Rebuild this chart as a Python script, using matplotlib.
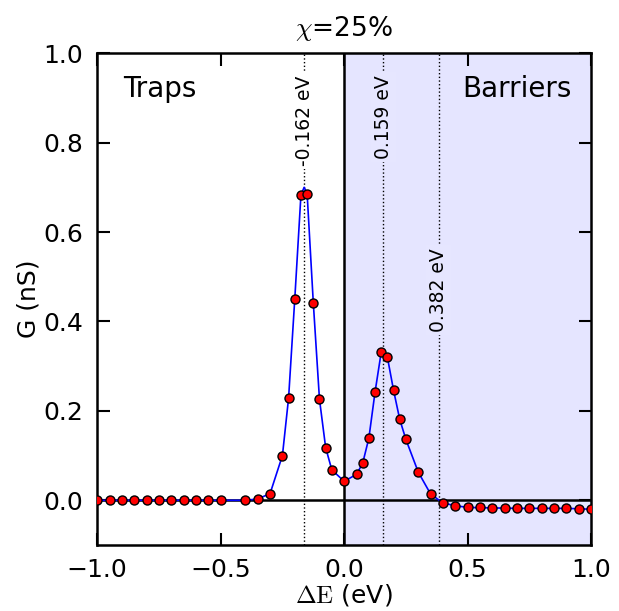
import matplotlib
matplotlib.use("Agg")
import matplotlib.pyplot as plt

plt.rcParams['mathtext.fontset'] = 'cm'

# Data
energy = [-1.0, -0.95, -0.9, -0.85, -0.8, -0.75, -0.7, -0.65, -0.6, -0.55, -0.5,
          -0.4, -0.35, -0.3, -0.25, -0.225, -0.2, -0.175, -0.15, -0.125, -0.1,
          -0.075, -0.05, 0.0, 0.05, 0.075, 0.1, 0.125, 0.15, 0.175, 0.2, 0.225,
          0.25, 0.3, 0.35, 0.4, 0.45, 0.5, 0.55, 0.6, 0.65, 0.7, 0.75, 0.8,
          0.85, 0.9, 0.95, 1.0]
conductance = [0.0, 0.0, 0.0, 0.0, 0.0, 0.0, 0.0, 0.0, 0.0, 0.0, 0.0,
               0.0, 0.003, 0.015, 0.100, 0.229, 0.450, 0.683, 0.686, 0.442, 0.226,
               0.118, 0.068, 0.0425, 0.058, 0.083, 0.139, 0.242, 0.331, 0.320, 0.246, 0.181,
               0.136, 0.063, 0.014, -0.006, -0.012, -0.016, -0.016, -0.017, -0.017, -0.018, -0.018, -0.018,
               -0.018, -0.018, -0.020, -0.020]

# fitted curve (blue line), incl. apexes
fit_x = [-1.0, -0.5, -0.4, -0.35, -0.3, -0.25, -0.225, -0.2, -0.175, -0.162, -0.15, -0.125,
         -0.1, -0.075, -0.05, 0.0, 0.05, 0.075, 0.1, 0.125, 0.15, 0.157, 0.175, 0.2,
         0.225, 0.25, 0.3, 0.35, 0.4, 0.45, 0.5, 0.6, 0.7, 0.8, 0.9, 1.0]
fit_y = [0.0, 0.0, 0.0, 0.003, 0.015, 0.100, 0.229, 0.450, 0.683, 0.700, 0.686, 0.442,
         0.226, 0.118, 0.068, 0.0425, 0.058, 0.083, 0.139, 0.242, 0.331, 0.336, 0.320, 0.246,
         0.181, 0.136, 0.063, 0.014, -0.006, -0.012, -0.016, -0.017, -0.018, -0.018, -0.018, -0.020]

level_energies = [-0.162, 0.159, 0.382]
level_labels = ["-0.162 eV", "0.159 eV", "0.382 eV"]
level_label_y = [0.848, 0.857, 0.47]

fig = plt.figure(figsize=(6.19, 6.11), dpi=100)
ax = fig.add_axes([0.157, 0.108, 0.798, 0.805])

ax.axvspan(0, 1, color='b', alpha=0.1, lw=0, zorder=0)
ax.axhline(0, color='k', lw=1.8, zorder=1)
ax.axvline(0, color='k', lw=1.8, zorder=1)
for e in level_energies:
    ax.axvline(e, color='k', ls=':', lw=1.0, zorder=1)

ax.plot(fit_x, fit_y, color='b', lw=1.2, zorder=2)
ax.plot(energy, conductance, 'o', color='red', mec='k', mew=1.0, ms=6.5, zorder=3,
        clip_on=True)

bgc = [(1, 1, 1), (0.9, 0.9, 1.0), (0.9, 0.9, 1.0)]
for e, lab, yy, c in zip(level_energies, level_labels, level_label_y, bgc):
    ax.text(e, yy, lab, rotation=90, ha='center', va='center', fontsize=13.5,
            bbox=dict(facecolor=c, edgecolor='none', pad=2), zorder=4)

ax.text(-0.745, 0.92, "Traps", ha='center', va='center', fontsize=20)
ax.text(0.70, 0.92, "Barriers", ha='center', va='center', fontsize=20)

ax.set_xlim(-1, 1)
ax.set_ylim(-0.1, 1.0)
ax.set_xticks([-1.0, -0.5, 0.0, 0.5, 1.0])
ax.set_yticks([0.0, 0.2, 0.4, 0.6, 0.8, 1.0])
ax.tick_params(direction='in', top=True, right=True, length=9, width=1.5,
               labelsize=18)
ax.tick_params(axis='y', pad=10)
ax.tick_params(axis='x', pad=9)
for s in ax.spines.values():
    s.set_linewidth(1.8)
ax.set_xlabel(r"$\Delta\mathrm{E}$ (eV)", fontsize=18, labelpad=0)
ax.set_ylabel("G (nS)", fontsize=18, labelpad=2)
ax.set_title(r"$\chi$=25%", fontsize=19, pad=12)

fig.savefig("out.png", dpi=100)
